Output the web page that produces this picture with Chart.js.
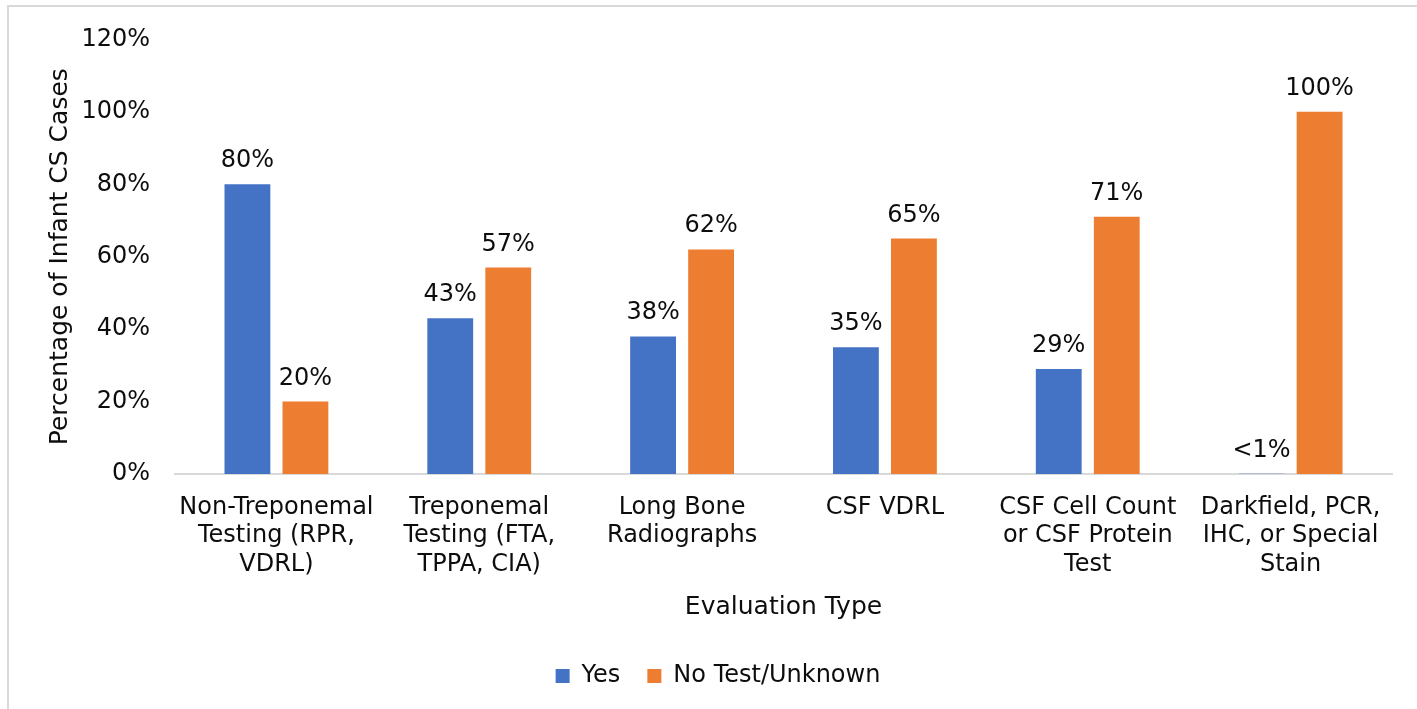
<!DOCTYPE html>
<html>
<head>
<meta charset="utf-8">
<script src="https://cdn.jsdelivr.net/npm/chart.js@4"></script>
<style>
  html, body { margin: 0; padding: 0; background: #fff; }
  #wrap { position: relative; width: 1417px; height: 709px; }
  #frame { position: absolute; left: 7px; top: 5px; right: -10px; bottom: -10px;
           border-left: 2px solid #d9d9d9; border-top: 2px solid #d9d9d9; pointer-events: none; }
</style>
</head>
<body>
<div id="wrap">
  <canvas id="barChart" width="1417" height="709"></canvas>
  <div id="frame"></div>
</div>
<script>
// Categories (evaluation types), wrapped as in the original
const categories = [
    ["Non-Treponemal", "Testing (RPR,", "VDRL)"],
    ["Treponemal", "Testing (FTA,", "TPPA, CIA)"],
    ["Long Bone", "Radiographs"],
    ["CSF VDRL"],
    ["CSF Cell Count", "or CSF Protein", "Test"],
    ["Darkfield, PCR,", "IHC, or Special", "Stain"]
];

// Percent of infant CS cases
const yesValues = [80, 43, 38, 35, 29, 0.1];
const noTestValues = [20, 57, 62, 65, 71, 100];

// Label text shown above each bar
const yesLabels = ["80%", "43%", "38%", "35%", "29%", "<1%"];
const noTestLabels = ["20%", "57%", "62%", "65%", "71%", "100%"];

const yTicks = [0, 20, 40, 60, 80, 100, 120];

const FONT = "'DejaVu Sans', Verdana, sans-serif";
const TEXT = "#0d0d0d";

// Simple value labels drawn above the bars
const barLabels = {
    id: 'barLabels',
    afterDatasetsDraw(chart) {
        const ctx = chart.ctx;
        ctx.save();
        ctx.font = "24px " + FONT;
        ctx.fillStyle = TEXT;
        ctx.textAlign = 'center';
        ctx.textBaseline = 'alphabetic';
        chart.data.datasets.forEach((ds, i) => {
            const meta = chart.getDatasetMeta(i);
            meta.data.forEach((bar, j) => {
                ctx.fillText(ds.valueLabels[j], bar.x, bar.y - 17);
            });
        });
        ctx.restore();
    }
};

const chartData = {
    labels: categories,
    datasets: [
        {
            label: 'Yes',
            data: yesValues,
            valueLabels: yesLabels,
            backgroundColor: "#4472C4",
            categoryPercentage: 0.572,
            barPercentage: 0.79
        },
        {
            label: 'No Test/Unknown',
            data: noTestValues,
            valueLabels: noTestLabels,
            backgroundColor: "#ED7D31",
            categoryPercentage: 0.572,
            barPercentage: 0.79
        }
    ]
};

const chartConfig = {
    type: 'bar',
    data: chartData,
    plugins: [barLabels],
    options: {
        responsive: false,
        animation: false,
        layout: {
            padding: { left: 44, right: 25, top: 29, bottom: 11 }
        },
        plugins: {
            legend: {
                position: 'bottom',
                labels: {
                    font: { family: FONT, size: 24 },
                    color: TEXT,
                    boxWidth: 14,
                    boxHeight: 14,
                    padding: 27
                }
            },
            tooltip: { enabled: false }
        },
        scales: {
            x: {
                grid: { display: false, drawTicks: false },
                border: { display: true, color: "#d9d9d9", width: 2 },
                ticks: {
                    font: { family: FONT, size: 24, lineHeight: 1.19 },
                    color: TEXT,
                    padding: 19,
                    maxRotation: 0,
                    autoSkip: false
                },
                title: {
                    display: true,
                    text: 'Evaluation Type',
                    font: { family: FONT, size: 25 },
                    color: TEXT,
                    padding: { top: 0, bottom: 15 }
                },
                afterFit(scale) { scale.height = 163; }
            },
            y: {
                min: 0,
                max: 120,
                grid: { display: false, drawTicks: false },
                border: { display: false },
                afterBuildTicks(scale) {
                    scale.ticks = yTicks.map(v => ({ value: v }));
                },
                ticks: {
                    font: { family: FONT, size: 24 },
                    color: TEXT,
                    padding: 25,
                    callback: v => v + '%'
                },
                title: {
                    display: true,
                    text: 'Percentage of Infant CS Cases',
                    font: { family: FONT, size: 25 },
                    color: TEXT,
                    padding: { top: 1, bottom: 0 }
                },
                afterFit(scale) { scale.width = 131; }
            }
        }
    }
};

const ctx = document.getElementById('barChart').getContext('2d');
new Chart(ctx, chartConfig);
</script>
</body>
</html>
